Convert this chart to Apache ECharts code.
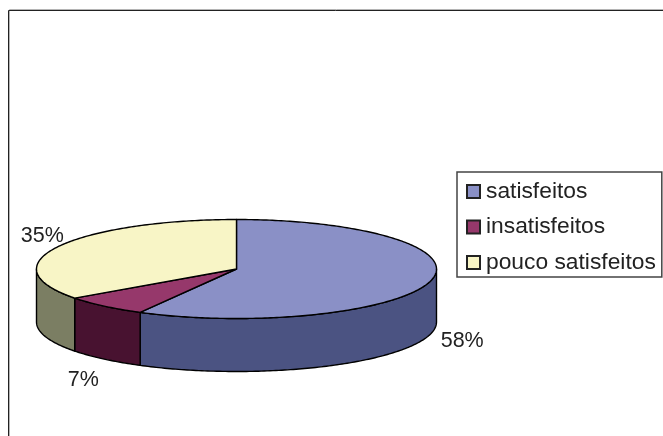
<!DOCTYPE html>
<html>
<head>
<meta charset="utf-8">
<style>html,body{margin:0;padding:0;background:#fff}#chart{width:663px;height:436px}</style>
<script src="https://cdn.jsdelivr.net/npm/echarts@6/dist/echarts.min.js"></script>
</head>
<body>
<div id="chart"></div>
<script>
// Satisfaction survey shares, in percent, clockwise from twelve o'clock.
const categories = ['satisfeitos', 'insatisfeitos', 'pouco satisfeitos'];
const shares = [58, 7, 35];

// Slice colours: top face and darker side wall.
const topColors = ['#8a90c6', '#96386b', '#f8f5c6'];
const wallColors = ['#4b5382', '#481230', '#7b7e63'];

// Tilted disc geometry and label placement relative to each slice's outer rim.
const disc = { cx: 236.5, cy: 269, rx: 200, ry: 49.5, depth: 53 };
const labelOffsets = [[32, 60], [-21, 74], [-16, -10]];
const labelFont = '21.5px "Liberation Sans", Arial, sans-serif';
const outline = { stroke: '#000', lineWidth: 1.4, lineJoin: 'round' };

const total = shares.reduce((a, b) => a + b, 0);

function rim(angle, drop) {
  return [
    disc.cx + disc.rx * Math.sin(angle),
    disc.cy - disc.ry * Math.cos(angle) + (drop || 0)
  ];
}

function arc(from, to, drop) {
  const steps = Math.max(2, Math.ceil(Math.abs(to - from) / 0.015));
  const pts = [];
  for (let i = 0; i <= steps; i++) pts.push(rim(from + (to - from) * i / steps, drop));
  return pts;
}

function renderSlice(index) {
  return function (params, api) {
    const value = api.value(0);
    const before = shares.slice(0, index).reduce((a, b) => a + b, 0);
    const start = before / total * Math.PI * 2;
    const end = (before + value) / total * Math.PI * 2;
    const children = [];

    // The wall shows only along the front half of the disc.
    const wallStart = Math.max(start, Math.PI / 2);
    const wallEnd = Math.min(end, Math.PI * 1.5);
    if (wallEnd > wallStart) {
      const upper = arc(wallStart, wallEnd, 0);
      const lower = arc(wallEnd, wallStart, disc.depth);
      children.push({
        type: 'polygon',
        z2: 1,
        shape: { points: upper.concat(lower) },
        style: Object.assign({ fill: wallColors[index] }, outline)
      });
    }

    children.push({
      type: 'polygon',
      z2: 2,
      shape: { points: [[disc.cx, disc.cy]].concat(arc(start, end, 0)) },
      style: Object.assign({ fill: topColors[index] }, outline)
    });

    const mid = (start + end) / 2;
    const anchor = rim(mid, 0);
    children.push({
      type: 'text',
      z2: 3,
      style: {
        text: Math.round(value / total * 100) + '%',
        x: anchor[0] + labelOffsets[index][0],
        y: anchor[1] + labelOffsets[index][1],
        align: 'center',
        verticalAlign: 'middle',
        font: labelFont,
        fill: '#222'
      }
    });
    return { type: 'group', children };
  };
}

const chart = echarts.init(document.getElementById('chart'), null, { renderer: 'canvas' });
chart.setOption({
  animation: false,
  backgroundColor: '#fff',
  graphic: [{
    // Chart-area frame: dark rule with a soft grey edge, open towards the page corner.
    type: 'polyline',
    silent: true,
    shape: { points: [[9.5, 436], [9.5, 9.5], [663, 9.5]] },
    style: { stroke: '#b4b4b4', lineWidth: 1, fill: null }
  }, {
    type: 'polyline',
    silent: true,
    z: 1,
    shape: { points: [[8.5, 436], [8.5, 10.5], [663, 10.5]] },
    style: { stroke: '#222', lineWidth: 1, fill: null }
  }],
  legend: {
    orient: 'vertical',
    left: 457,
    top: 172,
    width: 190,
    padding: [8, 6, 3, 9],
    itemGap: 12.5,
    itemWidth: 13,
    itemHeight: 13,
    backgroundColor: '#fff',
    borderColor: '#444',
    borderWidth: 1.5,
    borderRadius: 0,
    icon: 'rect',
    textStyle: {
      fontFamily: '"Liberation Sans", Arial, sans-serif',
      fontSize: 22.8,
      color: '#222',
      padding: [0, 0, 0, 1]
    },
    data: categories
  },
  series: categories.map((name, i) => ({
    type: 'custom',
    name,
    coordinateSystem: 'none',
    z: i === 0 ? 2 : 3,
    itemStyle: { color: topColors[i], borderColor: '#222', borderWidth: 1 },
    renderItem: renderSlice(i),
    data: [[shares[i]]]
  }))
});
</script>
</body>
</html>
